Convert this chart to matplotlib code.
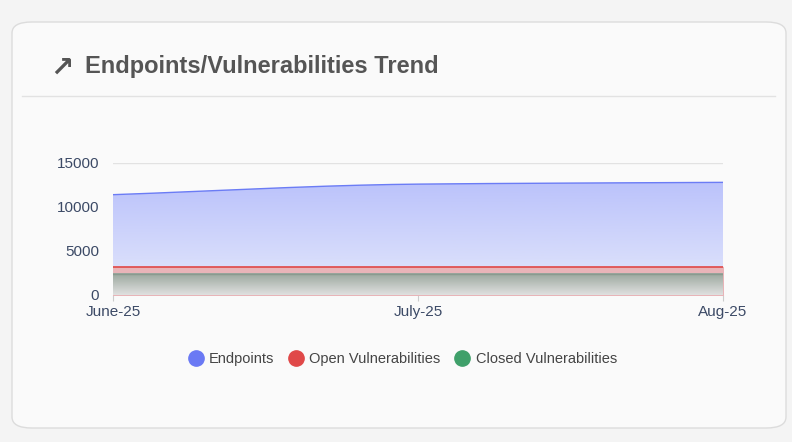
import numpy as np
import matplotlib.pyplot as plt
from matplotlib.patches import FancyBboxPatch
from matplotlib.colors import LinearSegmentedColormap

plt.rcParams['font.family'] = ['Liberation Sans', 'DejaVu Sans']

months = ["June-25", "July-25", "Aug-25"]
endpoints = [11400, 12600, 12800]
open_vulns = [3200, 3200, 3200]
closed_vulns = [2400, 2400, 2400]


def monotone(xs, ys, n=200):
    # monotone cubic (Fritsch-Carlson) just for drawing the smooth line
    xs = np.asarray(xs, float); ys = np.asarray(ys, float)
    d = np.diff(ys) / np.diff(xs)
    m = np.zeros_like(ys)
    m[0], m[-1] = d[0], d[-1]
    for i in range(1, len(ys) - 1):
        m[i] = 0 if d[i-1] * d[i] <= 0 else 2 / (1 / d[i-1] + 1 / d[i])
    xx = np.linspace(xs[0], xs[-1], n)
    yy = np.empty_like(xx)
    for k, x in enumerate(xx):
        i = min(np.searchsorted(xs, x, side="right") - 1, len(xs) - 2)
        h = xs[i+1] - xs[i]; t = (x - xs[i]) / h
        yy[k] = ((2*t**3 - 3*t**2 + 1) * ys[i] + (t**3 - 2*t**2 + t) * h * m[i]
                 + (-2*t**3 + 3*t**2) * ys[i+1] + (t**3 - t**2) * h * m[i+1])
    return xx, yy


fig = plt.figure(figsize=(7.92, 4.42), dpi=100)
fig.patch.set_facecolor("#f4f4f4")
card = FancyBboxPatch((12/792, 14/442), 774/792, 406/442, transform=fig.transFigure,
                      boxstyle="round,pad=0,rounding_size=0.025", fc="#fafafa",
                      ec="#dcdcdc", lw=1, zorder=-5)
fig.patches.append(card)
fig.add_artist(plt.Line2D([22/792, 775/792], [1 - 96/442] * 2, color="#e2e2e2", lw=1))
fig.text(50/792, 1 - 68/442, "\u2197", fontsize=20, color="#555", va="center",
         family="DejaVu Sans", fontweight="bold")
fig.text(85/792, 1 - 66/442, "Endpoints/Vulnerabilities Trend", fontsize=17,
         fontweight="bold", color="#555", va="center")

ax = fig.add_axes([113/792, 1 - 295/442, 610/792, 132/442])
ax.set_facecolor("none")
x = np.arange(len(months))
xe, ye = monotone(x, endpoints)

# gradient fill for endpoints
grad = np.linspace(1, 0, 256).reshape(-1, 1)
img = ax.imshow(grad, extent=[0, 2, 0, 15000], aspect="auto", origin="upper", zorder=1,
                cmap=LinearSegmentedColormap.from_list("b", ["#e4e8fb", "#b4bcfb"]))
poly = ax.fill_between(xe, 0, ye, color="none")
img.set_clip_path(poly.get_paths()[0], transform=ax.transData)
ax.plot(xe, ye, color="#6b7cf5", lw=1, zorder=3)

ax.fill_between(x, 0, open_vulns, color="#e8b4b8", zorder=2)
ax.plot(x, open_vulns, color="#e04848", lw=1.2, zorder=3)
grad2 = np.linspace(1, 0, 64).reshape(-1, 1)
ax.imshow(grad2, extent=[0, 2, 0, closed_vulns[0]], aspect="auto",
          origin="upper", zorder=2.5,
          cmap=LinearSegmentedColormap.from_list("g", ["#e0e0e0", "#9aa79d"]))
ax.plot(x, closed_vulns, color="#8a9a8f", lw=1, zorder=3)

ax.set_xlim(0, 2)
ax.set_ylim(0, 15000)
ax.set_yticks([0, 5000, 10000, 15000])
ax.set_xticks(x, months)
ax.grid(axis="y", color="#e2e2e2", lw=1, zorder=0)
for s in ax.spines.values():
    s.set_visible(False)
ax.tick_params(axis="y", length=0, pad=10, labelsize=11, labelcolor="#3c4a66")
ax.tick_params(axis="x", length=4, color="#ccc", labelsize=11, labelcolor="#3c4a66")
ax.set_axisbelow(True)

handles = [plt.Line2D([], [], marker="o", ls="", ms=11, color=c)
           for c in ["#6a79f4", "#e04848", "#3fa06a"]]
fig.legend(handles, ["Endpoints", "Open Vulnerabilities", "Closed Vulnerabilities"],
           loc="center", bbox_to_anchor=(399/792, 1 - 359/442), ncol=3, frameon=False,
           fontsize=10.5, handletextpad=-0.1, columnspacing=0.5, labelcolor="#444")

fig.savefig("out.png", dpi=100, facecolor=fig.get_facecolor())
